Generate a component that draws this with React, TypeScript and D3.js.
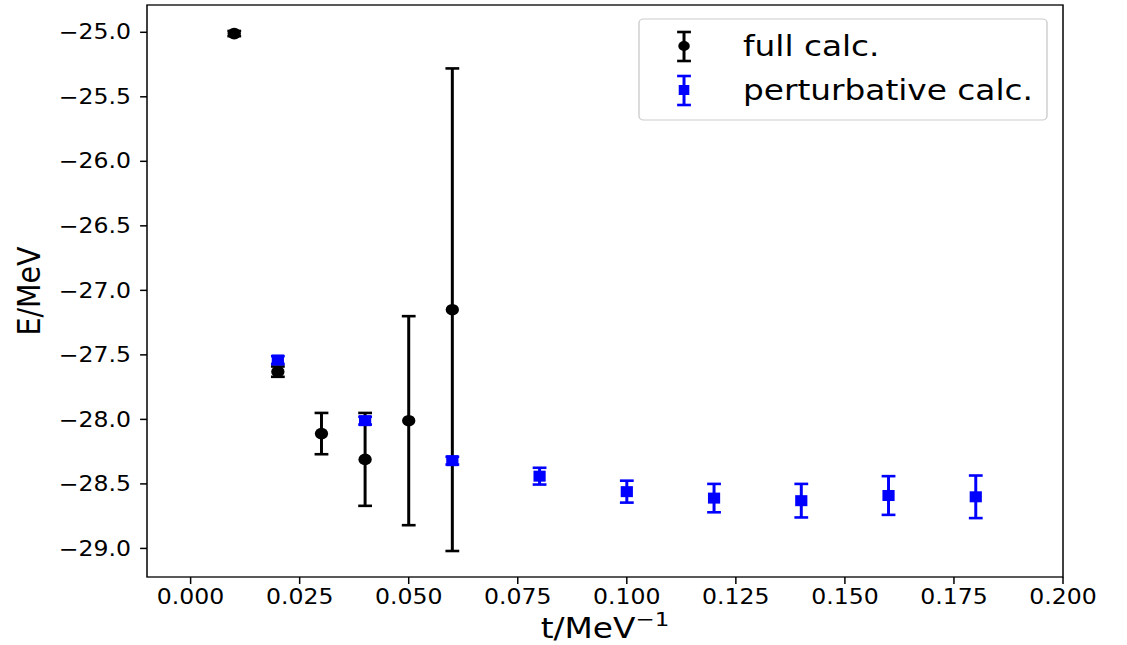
import React from "react";
import * as d3 from "d3";

// full calculation (black circles)
const fullT = [0.01, 0.02, 0.03, 0.04, 0.05, 0.06];
const fullE = [-25.01, -27.63, -28.11, -28.31, -28.01, -27.15];
const fullErr = [0.02, 0.04, 0.16, 0.36, 0.81, 1.87];

// perturbative calculation (blue squares)
const pertT = [0.02, 0.04, 0.06, 0.08, 0.1, 0.12, 0.14, 0.16, 0.18];
const pertE = [-27.54, -28.01, -28.32, -28.44, -28.56, -28.61, -28.63, -28.59, -28.6];
const pertErr = [0.03, 0.03, 0.03, 0.065, 0.085, 0.11, 0.13, 0.15, 0.165];

const xTicks = [0, 0.025, 0.05, 0.075, 0.1, 0.125, 0.15, 0.175, 0.2];
const yTicks = [-25, -25.5, -26, -26.5, -27, -27.5, -28, -28.5, -29];
const legendLabels = ["full calc.", "perturbative calc."];

// the picture is stretched horizontally, so draw in a squeezed frame
const SX = 1.15;
const W = 1127;
const H = 645;
const FONT = "DejaVu Sans, sans-serif";

const App = () => {
  const left = 147 / SX;
  const right = 1063 / SX;
  const top = 5;
  const bottom = 577;

  const x = d3.scaleLinear().domain([-0.01, 0.2]).range([left, right]);

  // matplotlib style autoscale with 5% margins
  const lows = fullE.map((d, i) => d - fullErr[i]).concat(pertE.map((d, i) => d - pertErr[i]));
  const highs = fullE.map((d, i) => d + fullErr[i]).concat(pertE.map((d, i) => d + pertErr[i]));
  const lo = d3.min(lows)!;
  const hi = d3.max(highs)!;
  const pad = (hi - lo) * 0.05;
  const y = d3.scaleLinear().domain([lo - pad, hi + pad]).range([bottom, top]);

  const cap = 6;
  const lw = 2.6;

  const errBar = (cx: number, cy0: number, cy1: number, color: string, key: string) => (
    <g key={key} stroke={color} strokeWidth={lw}>
      <line x1={cx} x2={cx} y1={cy0} y2={cy1} />
      <line x1={cx - cap} x2={cx + cap} y1={cy0} y2={cy0} />
      <line x1={cx - cap} x2={cx + cap} y1={cy1} y2={cy1} />
    </g>
  );

  const legX = 594.8;
  const legRows = [46, 90];

  return (
    <svg width={W} height={H} style={{ position: "absolute", left: 0, top: 0, background: "#fff" }}>
      <g transform={`scale(${SX},1)`} fontFamily={FONT}>
        {/* spines */}
        <rect x={left} y={top} width={right - left} height={bottom - top} fill="none" stroke="#000" strokeWidth={1.3} />

        {/* x ticks */}
        {xTicks.map((t) => (
          <g key={"xt" + t}>
            <line x1={x(t)} x2={x(t)} y1={bottom} y2={bottom + 7} stroke="#000" strokeWidth={1.3} />
            <text x={x(t)} y={604} textAnchor="middle" fontSize={20.5} fill="#000">
              {d3.format(".3f")(t)}
            </text>
          </g>
        ))}

        {/* y ticks */}
        {yTicks.map((t) => (
          <g key={"yt" + t}>
            <line x1={left} x2={left - 6} y1={y(t)} y2={y(t)} stroke="#000" strokeWidth={1.5} />
            <text x={left - 14} y={y(t)} dy="0.35em" textAnchor="end" fontSize={20.5} fill="#000">
              {d3.format(".1f")(t).replace("-", "\u2212")}
            </text>
          </g>
        ))}

        {/* axis labels */}
        <text x={x(0.095)} y={638} textAnchor="middle" fontSize={28.5} fill="#000">
          t/MeV
          <tspan fontSize={20} dy={-12}>−1</tspan>
        </text>
        <text
          transform={`translate(${40 / SX},${(top + bottom) / 2}) rotate(-90)`}
          textAnchor="middle"
          fontSize={28.5}
          fill="#000"
        >
          E/MeV
        </text>

        {/* full calc. */}
        {fullT.map((t, i) => errBar(x(t), y(fullE[i] + fullErr[i]), y(fullE[i] - fullErr[i]), "#000", "fe" + i))}
        {fullT.map((t, i) => (
          <circle key={"fc" + i} cx={x(t)} cy={y(fullE[i])} r={5.8} fill="#000" />
        ))}

        {/* perturbative calc. */}
        {pertT.map((t, i) => errBar(x(t), y(pertE[i] + pertErr[i]), y(pertE[i] - pertErr[i]), "#0000ff", "pe" + i))}
        {pertT.map((t, i) => (
          <rect key={"ps" + i} x={x(t) - 5.3} y={y(pertE[i]) - 5.5} width={10.6} height={11} fill="#0000ff" />
        ))}

        {/* legend */}
        <rect x={639 / SX} y={19} width={(1047 - 639) / SX} height={101} rx={4} fill="#fff" fillOpacity={0.8} stroke="#cccccc" strokeWidth={1.2} />
        {legendLabels.map((lab, i) => {
          const cy = legRows[i];
          const color = i === 0 ? "#000" : "#0000ff";
          return (
            <g key={"lg" + i}>
              {errBar(legX, cy - 14, cy + 15, color, "le" + i)}
              {i === 0 ? (
                <circle cx={legX} cy={cy} r={5} fill={color} />
              ) : (
                <rect x={legX - 4.6} y={cy - 5} width={9.2} height={10} fill={color} />
              )}
              <text x={743 / SX} y={cy + 10} fontSize={28.5} fill="#000">
                {lab}
              </text>
            </g>
          );
        })}
      </g>
    </svg>
  );
};

export default App;
